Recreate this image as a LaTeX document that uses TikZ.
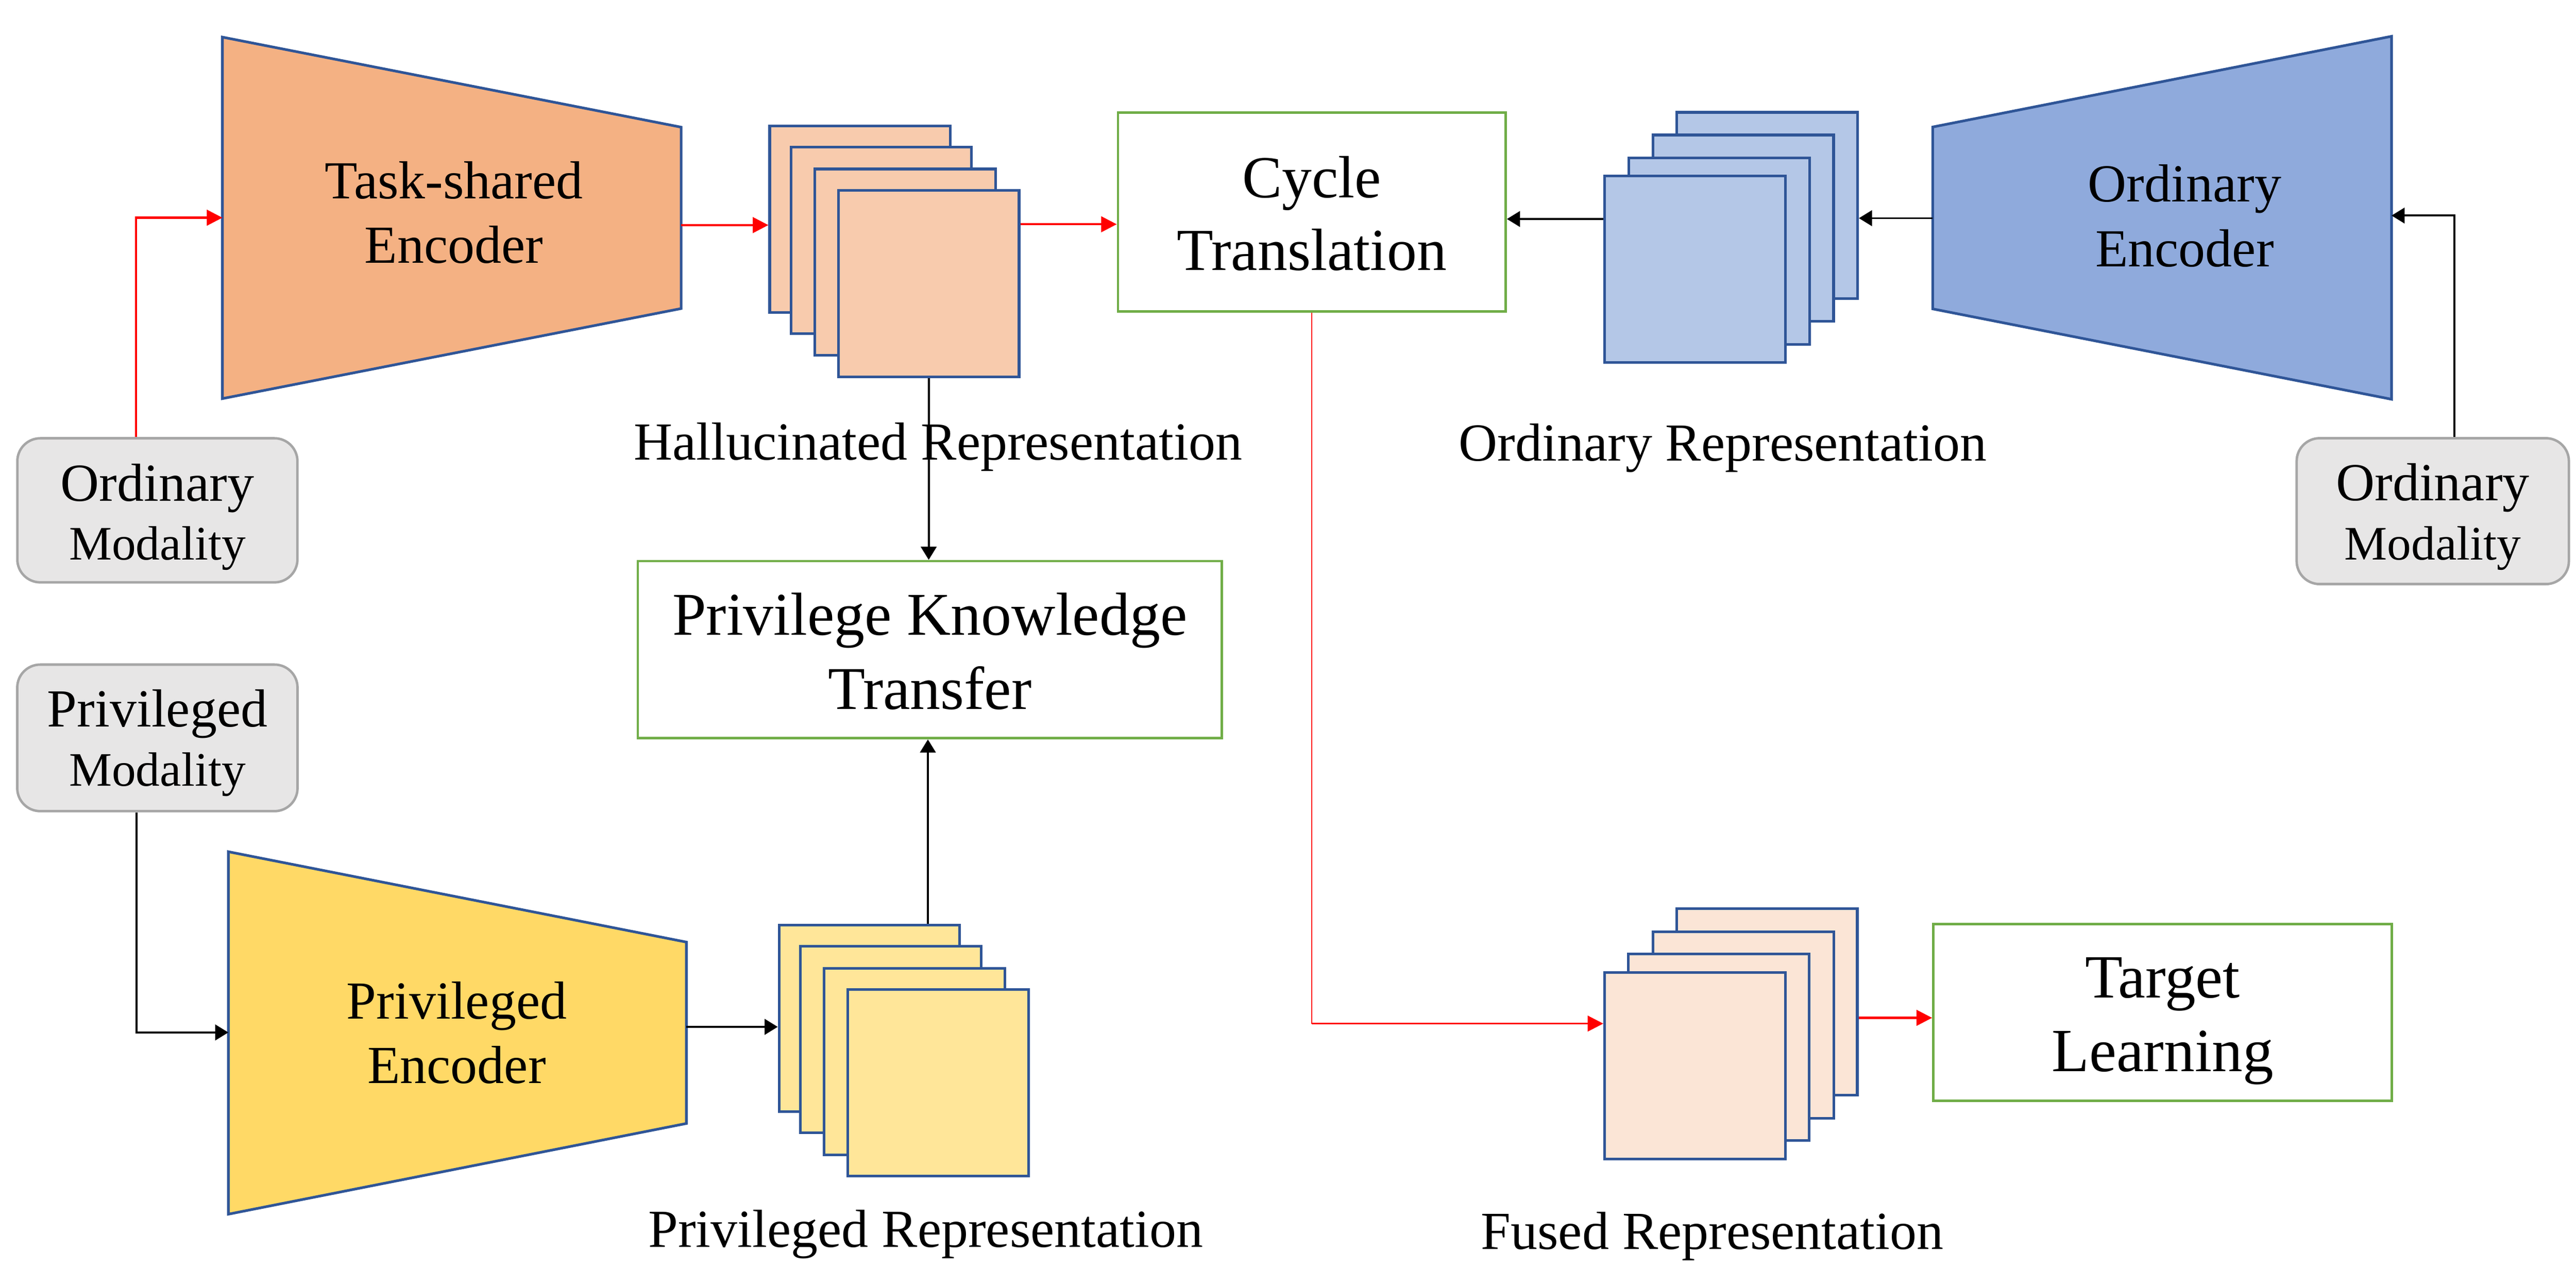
\documentclass[tikz,border=0pt]{standalone}
\usepackage{fontspec}
\setmainfont{Liberation Serif}
\usetikzlibrary{arrows.meta,calc}

\definecolor{encOrange}{HTML}{F4B183}
\definecolor{repOrange}{HTML}{F8CBAD}
\definecolor{repFused}{HTML}{FBE5D6}
\definecolor{encBlue}{HTML}{8FAADC}
\definecolor{repBlue}{HTML}{B4C7E7}
\definecolor{encYellow}{HTML}{FFD966}
\definecolor{repYellow}{HTML}{FFE699}
\definecolor{edgeBlue}{HTML}{2F5597}
\definecolor{boxGreen}{HTML}{70AD47}
\definecolor{modFill}{HTML}{E7E6E6}
\definecolor{modEdge}{HTML}{A6A6A6}

\begin{document}
\begin{tikzpicture}[x=1pt,y=-1pt,
  enc/.style={draw=edgeBlue, line width=1.6pt, line join=miter},
  sheet/.style={draw=edgeBlue, line width=1.6pt, minimum width=110pt, minimum height=113.5pt, inner sep=0pt},
  gbox/.style={draw=boxGreen, fill=white, line width=1.5pt, inner sep=0pt, align=center},
  modbox/.style={draw=modEdge, fill=modFill, line width=1.5pt, rounded corners=14pt, inner sep=0pt, align=center, font=\fontsize{32.6}{36.1}\selectfont},
  lbl/.style={inner sep=0pt, anchor=base, font=\fontsize{32.6}{36}\selectfont},
  enctext/.style={inner sep=0pt, anchor=north, align=center},
  redarrow/.style={draw=red, line width=1.3pt, -{Triangle[length=9.5pt,width=9.5pt]}},
  blkarrow/.style={draw=black, line width=1.2pt, -{Triangle[length=8pt,width=9.5pt]}},
]
\fill[white] (0,0) rectangle (1568,781.9);
\useasboundingbox (0,0) rectangle (1568,781.9);

% ---------- encoders (trapezoids) ----------
\draw[enc, fill=encOrange] (135.4,22.6) -- (414.6,77.4) -- (414.6,187.8) -- (135.4,242.6) -- cycle;
\draw[enc, fill=encBlue] (1176.4,77.3) -- (1455.7,22.1) -- (1455.7,243) -- (1176.4,188) -- cycle;
\draw[enc, fill=encYellow] (139,518.4) -- (417.8,573.4) -- (417.8,683.8) -- (139,739) -- cycle;

\coordinate (tsIn) at (135.4,132.5);
\coordinate (tsOut) at (414.6,137);
\coordinate (oeOut) at (1176.4,132.8);
\coordinate (oeIn) at (1455.7,131.2);
\coordinate (peIn) at (139,628.4);
\coordinate (peOut) at (417.8,625);

\node[enctext, font=\fontsize{32.6}{39.1}\selectfont] (tse) at (276.3,90.7) {\rule{0pt}{30pt}Task-shared\\Encoder};
\node[enctext, font=\fontsize{32.6}{39.3}\selectfont] (oe) at (1329.8,92.7) {\rule{0pt}{30pt}Ordinary\\Encoder};
\node[enctext, font=\fontsize{32.6}{39.2}\selectfont] (pe) at (278,589.9) {\rule{0pt}{30pt}Privileged\\Encoder};

% ---------- representation stacks ----------
\node[sheet, fill=repOrange] (h1) at (523.5,133.5) {};
\node[sheet, fill=repOrange] (h2) at (536.4,146.3) {};
\node[sheet, fill=repOrange] (h3) at (551.0,159.6) {};
\node[sheet, fill=repOrange] (h4) at (565.3,172.7) {};

\node[sheet, fill=repBlue] (o1) at (1075.7,125.1) {};
\node[sheet, fill=repBlue] (o2) at (1061.1,138.9) {};
\node[sheet, fill=repBlue] (o3) at (1046.4,152.9) {};
\node[sheet, fill=repBlue] (o4) at (1031.7,163.9) {};

\node[sheet, fill=repFused] (f1) at (1075.5,609.8) {};
\node[sheet, fill=repFused] (f2) at (1061.2,623.8) {};
\node[sheet, fill=repFused] (f3) at (1046.2,637.4) {};
\node[sheet, fill=repFused] (f4) at (1031.7,648.7) {};

\node[sheet, fill=repYellow] (p1) at (529.2,619.9) {};
\node[sheet, fill=repYellow] (p2) at (542.3,632.8) {};
\node[sheet, fill=repYellow] (p3) at (556.6,646.2) {};
\node[sheet, fill=repYellow] (p4) at (571.0,659.1) {};

% ---------- labels ----------
\node[lbl] (hl) at (571,280) {Hallucinated Representation};
\node[lbl] (ol) at (1048.7,280.4) {Ordinary Representation};
\node[lbl] (pl) at (563.5,759.2) {Privileged Representation};
\node[lbl] (fl) at (1042.3,760.4) {Fused Representation};

% ---------- green boxes ----------
\node[gbox, minimum width=236pt, minimum height=121pt, font=\fontsize{36.3}{44.2}\selectfont] (cyc) at (798.5,129.05)
  {\rule{0pt}{28.7pt}Cycle\\Translation\rule[-2pt]{0pt}{2pt}};
\node[gbox, minimum width=355.5pt, minimum height=107.8pt, font=\fontsize{37}{45.1}\selectfont] (pkt) at (566,395.4)
  {\rule{0pt}{29.5pt}Privilege Knowledge\\Transfer\rule[-2pt]{0pt}{2pt}};
\node[gbox, minimum width=279pt, minimum height=107.7pt, font=\fontsize{37.4}{44.9}\selectfont] (tgt) at (1316.3,616.2)
  {\rule{0pt}{37.1pt}Target\\Learning\rule[-10pt]{0pt}{10pt}};

% ---------- modality boxes ----------
\node[modbox, minimum width=170.5pt, minimum height=87.7pt, font=\fontsize{32.6}{35.7}\selectfont] (ml) at (95.8,310.6)
  {\rule{0pt}{32.7pt}Ordinary\\{\fontsize{29.3}{35.7}\selectfont Modality\rule[-8pt]{0pt}{8pt}}};
\node[modbox, minimum width=165.7pt, minimum height=88.8pt] (mr) at (1480.8,311.1)
  {\rule{0pt}{30.9pt}Ordinary\\{\fontsize{29.3}{36.1}\selectfont Modality\rule[-8pt]{0pt}{8pt}}};
\node[modbox, minimum width=170.6pt, minimum height=89.2pt] (mp) at (95.8,449.1)
  {\rule{0pt}{30.7pt}Privileged\\{\fontsize{29.3}{36.1}\selectfont Modality\rule[-8pt]{0pt}{8pt}}};

% ---------- connectors ----------
\coordinate (yHC) at (0,136.5);
\coordinate (yOC) at (0,133.3);
\coordinate (yFT) at (0,619.5);
\coordinate (fc) at (798.5,623);
\coordinate (pUp) at ($(p1.north)+(35.6,0)$);

\draw[redarrow] ($(ml.north)+(-13.1,0)$) |- (tsIn);
\draw[redarrow] (tsOut) -- (tsOut -| h1.west);
\draw[redarrow] (h4.east |- yHC) -- (cyc.west |- yHC);
\draw[red, line width=0.7pt] (cyc.south) -- (fc);
\draw[redarrow, line width=1.1pt] (fc) -- (fc -| f4.west);
\draw[redarrow] (f1.east |- yFT) -- (tgt.west |- yFT);

\draw[blkarrow] (oeOut) -- (oeOut -| o1.east);
\draw[blkarrow] (o4.west |- yOC) -- (cyc.east |- yOC);
\draw[blkarrow] ($(mr.north)+(13.2,0)$) |- (oeIn);
\draw[blkarrow] (h4.south) -- (h4.south |- pkt.north);
\draw[blkarrow] (pUp) -- (pUp |- pkt.south);
\draw[blkarrow] ($(mp.south)+(-12.8,0)$) |- (peIn);
\draw[blkarrow] (peOut) -- (peOut -| p1.west);
\end{tikzpicture}
\end{document}
